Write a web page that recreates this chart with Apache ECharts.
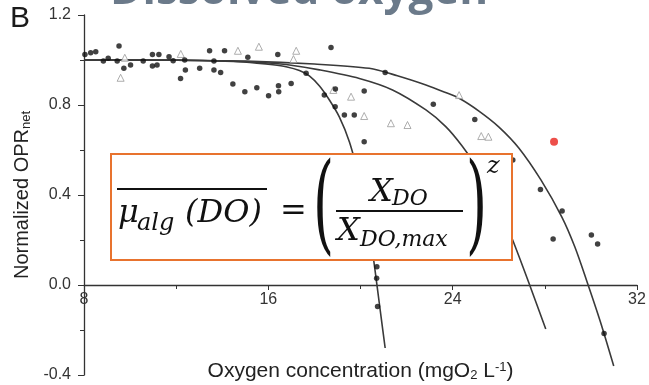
<!DOCTYPE html>
<html>
<head>
<meta charset="utf-8">
<script src="https://cdn.jsdelivr.net/npm/echarts@6/dist/echarts.min.js"></script>
<style>
  html, body { margin: 0; padding: 0; background: #ffffff; }
  #chart { width: 649px; height: 385px; }
</style>
</head>
<body>
<div id="chart"></div>
<script>
// Measured net oxygen production (filled markers): [DO mg/L, normalized OPR]
const measuredOPR = [
  [8.04, 1.025], [8.29, 1.032], [8.51, 1.037], [8.84, 0.996], [9.05, 1.008],
  [9.52, 1.062], [9.44, 0.996], [9.73, 0.963], [10.02, 0.978], [10.57, 0.996],
  [10.97, 1.025], [11.25, 1.025], [10.97, 0.973], [11.17, 0.978], [11.69, 1.015],
  [11.87, 0.997], [12.37, 1.000], [12.40, 0.956], [12.19, 0.918], [13.02, 0.963],
  [13.45, 1.041], [13.64, 0.996], [13.64, 0.956], [13.93, 0.945], [14.10, 1.041],
  [14.46, 0.893], [14.98, 0.859], [15.50, 0.877], [15.11, 1.012], [16.01, 0.841],
  [16.45, 0.859], [16.44, 0.886], [16.41, 1.025], [16.99, 0.896], [17.64, 0.941],
  [18.43, 0.844], [18.72, 1.056], [18.91, 0.871], [18.90, 0.792], [19.30, 0.756],
  [19.73, 0.756], [20.16, 0.862], [20.16, 0.637], [21.07, 0.945], [23.16, 0.803],
  [24.96, 0.736], [26.61, 0.556], [27.81, 0.425], [28.75, 0.329], [28.36, 0.204],
  [30.02, 0.222], [30.29, 0.182], [30.57, -0.215], [20.71, 0.081], [20.70, 0.030],
  [20.74, -0.096]
];

// Second data set (open triangles)
const secondSetOPR = [
  [9.59, 0.921], [9.77, 1.010], [12.20, 1.027], [14.68, 1.041], [15.59, 1.059],
  [17.09, 1.004], [17.21, 1.041], [18.82, 0.867], [19.59, 0.837], [20.16, 0.751],
  [21.32, 0.719], [22.04, 0.711], [24.28, 0.844], [25.24, 0.662], [25.55, 0.659]
];

// Highlighted single observation
const highlightedOPR = [[28.40, 0.637]];

// Fitted response curves
const fitCurveA = [
  [8, 1.0], [11, 1.0], [13, 0.998], [14.5, 0.993], [15.5, 0.986], [16.2, 0.979],
  [16.77, 0.970], [17.35, 0.953], [17.78, 0.929], [18.22, 0.884], [18.65, 0.822],
  [19.08, 0.747], [19.52, 0.636], [19.95, 0.476], [20.20, 0.360], [20.38, 0.253],
  [20.56, 0.120], [20.73, -0.013], [20.90, -0.147], [21.07, -0.280]
];
const fitCurveB = [
  [8, 1.0], [12, 0.999], [14, 0.996], [16, 0.987], [16.77, 0.980], [18.22, 0.956],
  [19.95, 0.918], [21.39, 0.867], [22.84, 0.778], [23.70, 0.704], [24.41, 0.618],
  [25.14, 0.511], [25.88, 0.378], [26.57, 0.209], [27.31, 0.009], [28.04, -0.196]
];
const fitCurveC = [
  [8, 1.0], [12, 0.999], [15, 0.995], [18, 0.982], [20.38, 0.963], [21.6, 0.930],
  [22.84, 0.889], [23.63, 0.858], [24.28, 0.830], [25.14, 0.773], [26.01, 0.702],
  [26.87, 0.609], [27.83, 0.467], [28.74, 0.302], [29.30, 0.170], [29.82, 0.018],
  [30.40, -0.160], [30.99, -0.360]
];

const xAxisRange = [8, 32];
const yAxisRange = [-0.4, 1.2];

const axisColor = '#333333';
const labelFont = '"Liberation Sans", Arial, sans-serif';
const mathFont = '"DejaVu Serif", serif';

const chart = echarts.init(document.getElementById('chart'), null, { renderer: 'canvas' });

// Helper for text pieces placed by left edge and baseline
function mathText(str, left, baseline, size, italic, extra) {
  return Object.assign({
    type: 'text',
    x: left,
    y: baseline - 0.3 * size,
    z: 110,
    style: {
      text: str,
      font: (italic ? 'italic ' : '') + size + 'px ' + mathFont,
      fill: '#111111',
      align: 'left',
      verticalAlign: 'middle'
    }
  }, extra || {});
}

function curveSeries(data) {
  return {
    type: 'line',
    data: data,
    smooth: 0.3,
    showSymbol: false,
    symbol: 'none',
    lineStyle: { color: '#3a3a3a', width: 1.6 },
    z: 2
  };
}

// Plot area: 360 px tall for 1.6 units, so the zero line sits 90 px above the bottom edge
const plotTop = 15, plotBottom = 10;
const zeroLineOffset = -90;

const option = {
  backgroundColor: '#ffffff',
  animation: false,
  grid: {
    left: 84, right: 12, top: plotTop, bottom: plotBottom,
    containLabel: false, outerBoundsMode: 'none'
  },
  xAxis: {
    type: 'value',
    position: 'bottom',
    offset: zeroLineOffset,
    min: xAxisRange[0],
    max: xAxisRange[1],
    interval: 8,
    name: 'Oxygen concentration (mgO{sub|2} L{sup|-1})',
    nameLocation: 'middle',
    nameGap: 76,
    nameTextStyle: {
      fontFamily: labelFont, fontSize: 21, color: '#222',
      rich: {
        sub: { fontFamily: labelFont, fontSize: 13, color: '#222', verticalAlign: 'bottom', padding: [7, 0, 0, 0] },
        sup: { fontFamily: labelFont, fontSize: 13, color: '#222', verticalAlign: 'top', padding: [0, 0, 7, 0] }
      }
    },
    axisLine: { onZero: false, lineStyle: { color: axisColor, width: 1.3 } },
    axisTick: { inside: false, length: 5, lineStyle: { color: axisColor } },
    minorTick: { show: true, splitNumber: 2, length: 4, lineStyle: { color: axisColor } },
    axisLabel: { fontFamily: labelFont, fontSize: 16, color: '#333', margin: 7 },
    splitLine: { show: false }
  },
  yAxis: {
    type: 'value',
    min: yAxisRange[0],
    max: yAxisRange[1],
    interval: 0.4,
    name: 'Normalized OPR{sub|net}',
    nameLocation: 'middle',
    nameGap: 46,
    nameTextStyle: {
      fontFamily: labelFont, fontSize: 20, color: '#222',
      rich: {
        sub: { fontFamily: labelFont, fontSize: 13, color: '#222', verticalAlign: 'bottom', padding: [7, 0, 0, 0] }
      }
    },
    axisLine: { onZero: false, lineStyle: { color: axisColor, width: 1.3 } },
    axisTick: { inside: false, length: 6, lineStyle: { color: axisColor } },
    minorTick: { show: true, splitNumber: 2, length: 4, lineStyle: { color: axisColor } },
    axisLabel: {
      fontFamily: labelFont, fontSize: 16, color: '#333', margin: 13,
      formatter: v => v.toFixed(1)
    },
    splitLine: { show: false }
  },
  series: [
    curveSeries(fitCurveA),
    curveSeries(fitCurveB),
    curveSeries(fitCurveC),
    {
      type: 'scatter',
      data: measuredOPR,
      symbol: 'circle',
      symbolSize: 5.5,
      itemStyle: { color: '#111111' },
      z: 4
    },
    {
      type: 'scatter',
      data: secondSetOPR,
      symbol: 'triangle',
      symbolSize: 7,
      itemStyle: { color: '#ffffff', borderColor: '#9a9a9a', borderWidth: 1 },
      z: 3
    },
    {
      type: 'scatter',
      data: highlightedOPR,
      symbol: 'circle',
      symbolSize: 8,
      itemStyle: { color: '#e8231d' },
      z: 5
    }
  ],
  graphic: [
    // Panel title (runs off the top edge)
    {
      type: 'text', x: 110, y: -8.5, z: 50,
      style: {
        text: 'Dissolved oxygen',
        font: 'bold 44px "Open Sans", sans-serif',
        fill: '#6b7a8a', align: 'left', verticalAlign: 'middle'
      }
    },
    // Panel letter
    {
      type: 'text', x: 10, y: 19, z: 50,
      style: {
        text: 'B', font: '30px ' + labelFont, fill: '#1a1a1a',
        align: 'left', verticalAlign: 'middle'
      }
    },
    // Formula box
    {
      type: 'rect', z: 100,
      shape: { x: 111, y: 154, width: 401, height: 106 },
      style: { fill: '#ffffff', stroke: '#e8732e', lineWidth: 2 }
    },
    mathText('\u03bc', 118, 223, 32, true),
    mathText('alg', 137, 231, 24, true),
    mathText('(DO)', 185, 223, 32, true),
    {
      type: 'line', z: 110,
      shape: { x1: 117, y1: 189, x2: 267, y2: 189 },
      style: { stroke: '#111111', lineWidth: 2 }
    },
    mathText('=', 280, 221, 32, false),
    mathText('(', 313, 244, 108, false, { scaleX: 0.5 }),
    mathText('X', 370, 202, 32, true),
    mathText('DO', 392, 206, 22, true),
    {
      type: 'line', z: 110,
      shape: { x1: 336, y1: 211, x2: 463, y2: 211 },
      style: { stroke: '#111111', lineWidth: 2 }
    },
    mathText('X', 337, 241, 32, true),
    mathText('DO,max', 360, 247, 22, true),
    mathText(')', 466, 244, 108, false, { scaleX: 0.5 }),
    mathText('z', 487, 174, 24, true)
  ]
};

chart.setOption(option);
</script>
</body>
</html>
